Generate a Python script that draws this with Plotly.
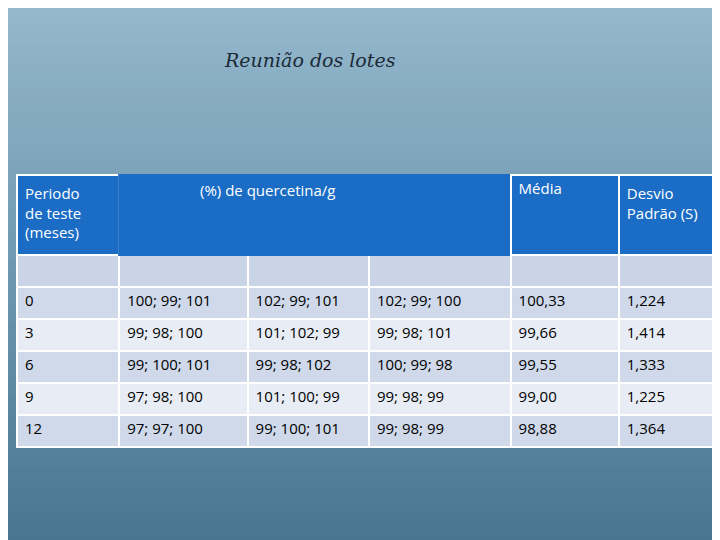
import plotly.graph_objects as go

title = "Reunião dos lotes"
header_labels = ["Periodo<br>de teste<br>(meses)", "", "", "", "Média", "Desvio<br>Padrão (S)"]
merged_header = "(%) de quercetina/g"
periodo = ["", "0", "3", "6", "9", "12"]
lote1 = ["", "100; 99; 101", "99; 98; 100", "99; 100; 101", "97; 98; 100", "97; 97; 100"]
lote2 = ["", "102; 99; 101", "101; 102; 99", "99; 98; 102", "101; 100; 99", "99; 100; 101"]
lote3 = ["", "102; 99; 100", "99; 98; 101", "100; 99; 98", "99; 98; 99", "99; 98; 99"]
media = ["", "100,33", "99,66", "99,55", "99,00", "98,88"]
desvio = ["", "1,224", "1,414", "1,333", "1,225", "1,364"]

W, H = 720, 540
OFF = 8  # page offset compensation
fig = go.Figure()

n = 60
top = (148, 184, 204)
bot = (72, 118, 146)
for i in range(n):
    t = i / (n - 1)
    c = tuple(int(top[k] + (bot[k] - top[k]) * t) for k in range(3))
    fig.add_shape(type="rect", xref="paper", yref="paper", x0=0, x1=1,
                  y0=1 - (i + 1) / n, y1=1 - i / n + 0.001,
                  fillcolor="rgb(%d,%d,%d)" % c, line_width=0, layer="below")

def px(x):
    return (x - OFF) / W

def py(y):
    return 1 - (y - OFF) / H

blue = "#1a6cc4"
row_fill = ["#c9d5e6", "#cfd9ea", "#e8edf5", "#cfd9ea", "#e8edf5", "#cfd9ea"]
fig.add_trace(go.Table(
    domain=dict(x=[px(17), px(728)], y=[py(453), py(175)]),
    columnwidth=[101, 127, 120, 140, 107, 108],
    header=dict(values=header_labels, fill_color=blue,
                line=dict(color=["white", blue, blue, blue, "white", "white"], width=2),
                align="left", height=80,
                font=dict(family="Open Sans", size=15, color="white")),
    cells=dict(values=[periodo, lote1, lote2, lote3, media, desvio],
               fill_color=[row_fill] * 6, line=dict(color="white", width=2),
               align="left", height=32,
               font=dict(family="Open Sans", size=15, color="black")),
))

fig.add_annotation(text=merged_header, xref="paper", yref="paper",
                   x=px(268), y=py(190), showarrow=False,
                   font=dict(family="Open Sans", size=15, color="white"))
fig.add_annotation(text="<i>" + title + "</i>", xref="paper", yref="paper",
                   x=px(310), y=py(47), showarrow=False,
                   font=dict(family="DejaVu Serif", size=19, color="#1c2a38"))

fig.update_layout(width=W, height=H, margin=dict(l=0, r=0, t=0, b=0),
                  paper_bgcolor="#6f97b0", plot_bgcolor="rgba(0,0,0,0)")
fig.write_html("out.html")
